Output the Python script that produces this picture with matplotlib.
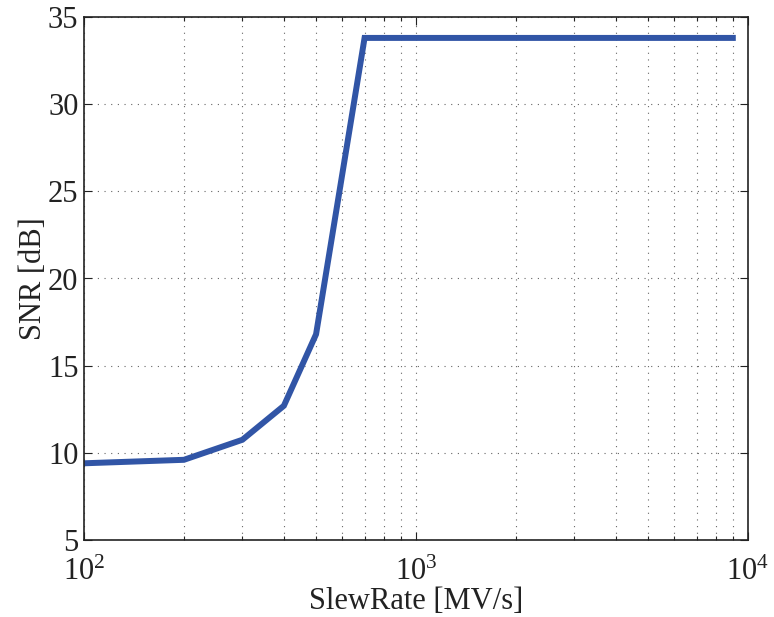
import matplotlib
matplotlib.use("Agg")
import matplotlib.pyplot as plt
from matplotlib.ticker import LogLocator, FixedLocator, NullFormatter

slew_rate = [100, 200, 300, 400, 500, 700, 1000, 2000, 5000, 9000]
snr_db = [9.4, 9.6, 10.75, 12.7, 16.8, 33.8, 33.8, 33.8, 33.8, 33.8]

plt.rcParams['font.family'] = ['Liberation Serif', 'DejaVu Serif']
plt.rcParams['mathtext.fontset'] = 'custom'
plt.rcParams['mathtext.rm'] = 'Liberation Serif'

fig = plt.figure(figsize=(7.74, 6.17), dpi=100)
ax = fig.add_axes([84/774, 1 - 540/617, 664/774, 523/617])

ax.plot(slew_rate, snr_db, color='#3155a6', linewidth=4.3, solid_joinstyle='miter')
ax.set_xscale('log')
ax.set_xlim(1e2, 1e4)
ax.set_ylim(5, 35)
ax.yaxis.set_major_locator(FixedLocator([5, 10, 15, 20, 25, 30, 35]))
ax.xaxis.set_major_locator(LogLocator(base=10))
ax.xaxis.set_minor_locator(LogLocator(base=10, subs=range(2, 10)))
ax.xaxis.set_minor_formatter(NullFormatter())

ax.grid(True, which='both', axis='x', linestyle=(0, (1, 5)), color='#666666', linewidth=0.8)
ax.grid(True, which='major', axis='y', linestyle=(0, (1, 5)), color='#666666', linewidth=0.8)

ax.tick_params(which='both', direction='in', top=True, right=True, labelsize=22, colors='#222222')
ax.tick_params(which='major', length=6, width=0.8)
ax.tick_params(which='minor', length=3, width=0.8)
ax.tick_params(axis='x', pad=13)
ax.tick_params(axis='y', pad=4)
for s in ax.spines.values():
    s.set_linewidth(1.2)
    s.set_color('#222222')

ax.set_xlabel('SlewRate [MV/s]', fontsize=22, color='#222222', labelpad=0)
ax.set_ylabel('SNR [dB]', fontsize=22, color='#222222', labelpad=0)

fig.savefig('out.png', dpi=100)
